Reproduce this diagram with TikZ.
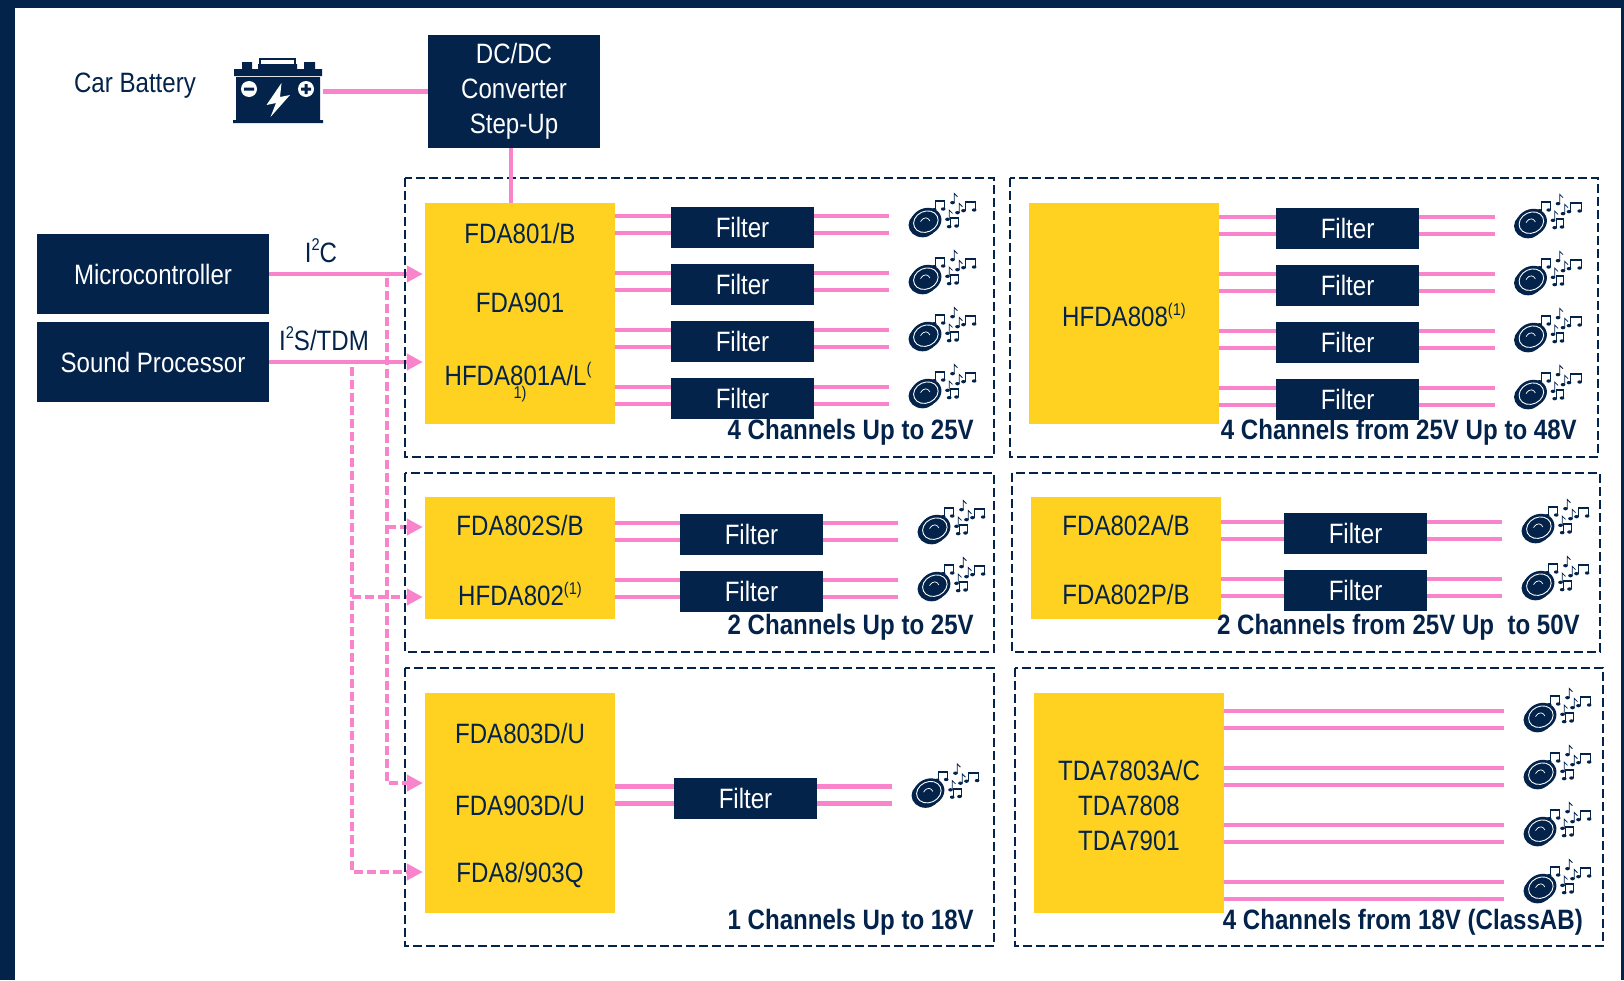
\documentclass[tikz,border=0pt]{standalone}
\usepackage{fontspec}
\setmainfont[FakeStretch=.86]{Liberation Sans}
\usetikzlibrary{arrows.meta}
\definecolor{stnavy}{HTML}{03234B}
\definecolor{styellow}{HTML}{FFD221}
\definecolor{stpink}{HTML}{F984CB}
\newcommand{\upnote}[1]{\raisebox{.42em}{\fontsize{17}{17}\selectfont #1}}
\begin{document}
\begin{tikzpicture}[x=1pt,y=-1pt,font=\fontsize{28}{35}\selectfont,>={Triangle[length=16pt,width=16pt]},
darkbox/.style={fill=stnavy,text=white,inner sep=0pt,align=center},
filterbox/.style={darkbox,minimum width=143pt,minimum height=41pt},
amp/.style={fill=styellow,inner sep=0pt,minimum width=190pt},
chip/.style={text=stnavy,inner sep=0pt,align=center},
zone/.style={draw=stnavy,line width=2pt,dash pattern=on 9pt off 4pt},
zonetitle/.style={text=stnavy,inner sep=0pt,anchor=east,font=\fontsize{28}{35}\selectfont\bfseries},
wire/.style={draw=stpink,line width=4.5pt},
bus/.style={draw=stpink,line width=4pt,dash pattern=on 9pt off 4pt},
speaker/.pic={
\fill[stnavy] (-60,30) ellipse (42 and 37);
\fill[stnavy,rotate around={25:(-50,20)}] (-50,20) ellipse (48 and 40);
\draw[white,line width=.9pt,rotate around={25:(-50,20)}] (-50,20) ellipse (38 and 31);
\draw[white,line width=.7pt] (-66,20) .. controls (-55,2) and (-42,8) .. (-38,18);
\foreach \a/\b/\c in {-20/7/-43,68/100/-40,25/47/8}{
\draw[stnavy,line width=.8pt] (\a,\c+27) -- (\a,\c) -- (\b,\c) -- (\b,\c+25);
\draw[stnavy,line width=1.5pt] (\a,\c+2) -- (\b,\c+2);
\fill[stnavy] (\a-5,\c+27) ellipse (7 and 5);
\fill[stnavy] (\b-5,\c+25) ellipse (7 and 5);
}
\foreach \a/\c in {35/-65,50/-35,20/-15}{
\draw[stnavy,line width=.8pt] (\a,\c+28) -- (\a,\c) -- (\a+10,\c+10);
\fill[stnavy] (\a-5,\c+28) ellipse (7 and 5);
}
}]
\useasboundingbox (0,0) rectangle (1624,980);
\fill[stnavy] (0,0) rectangle (1624,980);
\fill[white] (14.5,8) rectangle (1621,980);
\node[darkbox,minimum width=172pt,minimum height=113pt] (dcdc) at (514,91.5) {DC/DC\\Converter\\Step-Up};
\node[darkbox,minimum width=232pt,minimum height=80pt] (micro) at (153,274) {Microcontroller};
\node[darkbox,minimum width=232pt,minimum height=80pt] (sound) at (153,362) {Sound Processor};
\node[amp,minimum height=221pt] (ampa) at (520,313.5) {};
\node[amp,minimum height=122pt] (ampb) at (520,558) {};
\node[amp,minimum height=220pt] (ampc) at (520,803) {};
\node[amp,minimum height=221pt] (ampd) at (1124,313.5) {};
\node[amp,minimum height=122pt] (ampe) at (1126,558) {};
\node[amp,minimum height=220pt] (ampf) at (1129,803) {};
\node[text=stnavy,inner sep=0pt] (carbattery) at (135,86) {Car Battery};
\node[minimum width=90pt,minimum height=65pt,inner sep=0pt] (battery) at (278,90.5) {};
\fill[stnavy] (236,77) rectangle (320,120) (233,120) rectangle (323,123) (234,69) rectangle (322,76) (242,62) rectangle (252,69) (304,62) rectangle (315,69) (258,64) rectangle (297,69);
\draw[stnavy,line width=1.5pt] (260,65) -- (260,59) -- (295,59) -- (295,65);
\fill[white] (249,89) circle (8) (306,89) circle (8);
\fill[stnavy] (244,87.5) rectangle (254,90.5) (301,87.5) rectangle (311,90.5) (304.5,84) rectangle (307.5,94);
\fill[white] (281.5,83) -- (266.5,105) -- (276,103) -- (270.5,117) -- (290,95) -- (280,97) -- cycle;
\draw[wire] (battery.east |- dcdc) -- (dcdc.west);
\draw[wire,->] (micro.east) -- ([xshift=-2pt]ampa.west |- micro);
\draw[wire,->] (sound.east) -- ([xshift=-2pt]ampa.west |- sound);
\coordinate (busi2c) at (387,278);
\coordinate (busi2s) at (352,367);
\coordinate (tapb) at (387,527);
\coordinate (tapc) at (352,597);
\draw[bus,->] (busi2c) |- ([xshift=-2pt]ampc.west |- 0,783);
\draw[bus,->] (busi2s) |- ([xshift=-2pt]ampc.west |- 0,872);
\draw[bus,->] (tapb) -- ([xshift=-2pt]ampb.west |- tapb);
\draw[bus,->] (tapc) -- ([xshift=-2pt]ampb.west |- tapc);
\draw[zone] (405,178) rectangle (994,457);
\draw[zone] (405,473) rectangle (994,652);
\draw[zone] (405,668) rectangle (994,946);
\draw[zone] (1010,178) rectangle (1598,457);
\draw[zone] (1012,473) rectangle (1600,652);
\draw[zone] (1015,668) rectangle (1603,946);
\coordinate (feed) at (511,203);
\draw[wire] (dcdc.south -| feed) -- (feed);
\foreach \n/\amp/\fx/\ex/\y in {a1/ampa/742.5/889/224.5,a2/ampa/742.5/889/281.5,a3/ampa/742.5/889/338.5,a4/ampa/742.5/889/395.5,
d1/ampd/1347.5/1494.5/225.5,d2/ampd/1347.5/1494.5/282.5,d3/ampd/1347.5/1494.5/339.5,d4/ampd/1347.5/1494.5/396.5,
b1/ampb/751.5/898/531.5,b2/ampb/751.5/898/588.5,e1/ampe/1355.5/1502/530.5,e2/ampe/1355.5/1502/587.5,c1/ampc/745.5/892/795}{
\node[filterbox] (f\n) at (\fx,\y+3) {Filter};
\coordinate (t\n) at (\ex,\y-8.5);
\coordinate (b\n) at (\ex,\y+8.5);
\draw[wire] (\amp.east |- t\n) -- (f\n.west |- t\n) (\amp.east |- b\n) -- (f\n.west |- b\n);
\draw[wire] (f\n.east |- t\n) -- (t\n) (f\n.east |- b\n) -- (b\n);
\pic[scale=.333] at (\ex+53.5,\y-9.5) {speaker};
}
\foreach \n/\y in {1/719.5,2/776.5,3/833.5,4/890.5}{
\coordinate (tf\n) at (1504,\y-8.5);
\coordinate (bf\n) at (1504,\y+8.5);
\draw[wire] (ampf.east |- tf\n) -- (tf\n);
\draw[wire] (ampf.east |- bf\n) -- (bf\n);
\pic[scale=.333] at (1557.5,\y-9.5) {speaker};
}
\node[text=stnavy,inner sep=0pt] (i2c) at (321,251) {I\upnote{2}C};
\node[text=stnavy,inner sep=0pt] (i2s) at (324,339) {I\upnote{2}S/TDM};
\node[chip] (fda801) at (520,233) {FDA801/B};
\node[chip] (fda901) at (520,302.5) {FDA901};
\node[chip] (hfda801) at (518,374) {HFDA801A/L\upnote{(}};
\node[chip,font=\fontsize{17}{17}\selectfont] (hfda801b) at (520,394) {1)};
\node[chip] (hfda808) at (1124,315) {HFDA808\upnote{(1)}};
\node[chip] (fda802s) at (520,525) {FDA802S/B};
\node[chip] (hfda802) at (520,594) {HFDA802\upnote{(1)}};
\node[chip] (fda802a) at (1126,525) {FDA802A/B};
\node[chip] (fda802p) at (1126,594.5) {FDA802P/B};
\node[chip] (fda803) at (520,733) {FDA803D/U};
\node[chip] (fda903) at (520,805) {FDA903D/U};
\node[chip] (fda8) at (520,875) {FDA8/903Q};
\node[chip] (tda) at (1129,805) {TDA7803A/C\\TDA7808\\TDA7901};
\node[zonetitle] (titlea) at (974,432) {4 Channels Up to 25V};
\node[zonetitle] (titled) at (1577,432) {4 Channels from 25V Up to 48V};
\node[zonetitle] (titleb) at (974,627) {2 Channels Up to 25V};
\node[zonetitle] (titlee) at (1580,627) {2 Channels from 25V Up~ to 50V};
\node[zonetitle] (titlec) at (974,922) {1 Channels Up to 18V};
\node[zonetitle] (titlef) at (1583,922) {4 Channels from 18V (ClassAB)};
\end{tikzpicture}
\end{document}
